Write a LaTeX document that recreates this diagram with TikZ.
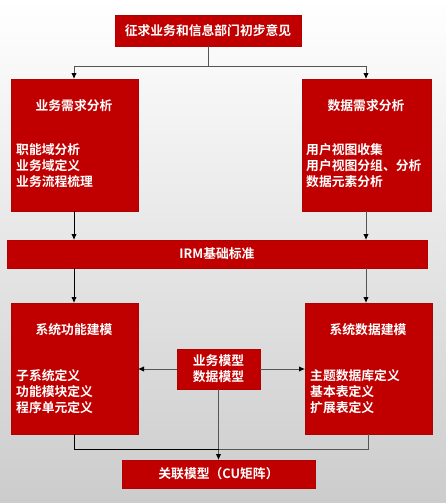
\documentclass[tikz,border=0pt]{standalone}
\usepackage{fontspec}
\setmainfont{Noto Sans CJK SC}[BoldFont={* Bold}]
\usetikzlibrary{arrows.meta}
\definecolor{boxred}{HTML}{C00000}
\definecolor{boxedge}{HTML}{B00000}
\definecolor{linegray}{HTML}{555555}
\begin{document}
\begin{tikzpicture}[x=1pt,y=-1pt,
  redbox/.style={fill=boxred,draw=boxedge,line width=0.6pt},
  wtxt/.style={text=white,font=\fontsize{12.8}{16}\selectfont\bfseries,inner sep=0pt},
  wlist/.style={wtxt,align=left,anchor=north west},
  conn/.style={draw=linegray,line width=0.9pt},
  connk/.style={draw=black,line width=0.9pt},
  tip/.style={-{Latex[length=6pt,width=5.5pt,fill=black,color=black]}}]
% background with vertical shading
\shade[top color=white,bottom color=black!20] (0,0) rectangle (446,503);
\useasboundingbox (0,0) rectangle (446,503);

% boxes
\path[redbox] (115,15) rectangle (301,46);
\node[wtxt] (top) at (208,30.5) {征求业务和信息部门初步意见};
\coordinate (topb) at (208,46);

\path[redbox] (11,79) rectangle (138,211);
\path[redbox] (302,79) rectangle (431,211);
\node[wtxt] (bizT) at (74,106) {业务需求分析};
\node[wlist] (bizL) at (16,143) {职能域分析\\业务域定义\\业务流程梳理};
\node[wtxt] (datT) at (366,106) {数据需求分析};
\node[wlist] (datL) at (306,143) {用户视图收集\\用户视图分组、分析\\数据元素分析};

\path[redbox] (7,240) rectangle (427,268);
\node[wtxt] (irm) at (217,253.5) {IRM基础标准};

\path[redbox] (11,303) rectangle (138,434);
\path[redbox] (305,303) rectangle (432,434);
\node[wtxt] (funT) at (74,330) {系统功能建模};
\node[wlist] (funL) at (16,369) {子系统定义\\功能模块定义\\程序单元定义};
\node[wtxt] (sdtT) at (368,330) {系统数据建模};
\node[wlist] (sdtL) at (310,369) {主题数据库定义\\基本表定义\\扩展表定义};

\path[redbox] (177,349) rectangle (260,389);
\node[wtxt,align=center] (mid) at (218.5,368.5) {业务模型\\数据模型};

\path[redbox] (122,460) rectangle (315,488);
\node[wtxt] (cu) at (218.5,474) {关联模型（CU矩阵）};

% anchor points on box edges
\coordinate (bizTop) at (74,79);   \coordinate (datTop) at (366,79);
\coordinate (bizBot) at (74,211);  \coordinate (datBot) at (366,211);
\coordinate (irmL) at (74,240);    \coordinate (irmR) at (366,240);
\coordinate (irmLb) at (74,268);   \coordinate (irmRb) at (366,268);
\coordinate (funTop) at (74,303);  \coordinate (sdtTop) at (366,303);
\coordinate (funBot) at (74,434);  \coordinate (sdtBot) at (368,434);
\coordinate (funR) at (138,369);   \coordinate (sdtL) at (305,369);
\coordinate (midL) at (177,369);   \coordinate (midR) at (260,369);
\coordinate (midB) at (218.5,389); \coordinate (cuTop) at (218.5,460);
\coordinate (split) at (208,66);   \coordinate (join) at (218.5,449);

% connectors
\draw[conn] (topb) -- (split);
\draw[conn,tip] (split) -| (bizTop);
\draw[conn,tip] (split) -| (datTop);
\draw[connk,tip] (bizBot) -- (irmL);
\draw[conn,tip] (datBot) -- (irmR);
\draw[connk,tip] (irmLb) -- (funTop);
\draw[conn,tip] (irmRb) -- (sdtTop);
\draw[conn,tip] (midL) -- (funR);
\draw[conn,tip] (midR) -- (sdtL);
\draw[conn,tip] (midB) -- (cuTop);
\draw[connk] (funBot) |- (join);
\draw[conn] (sdtBot) |- (join);
\end{tikzpicture}
\end{document}
